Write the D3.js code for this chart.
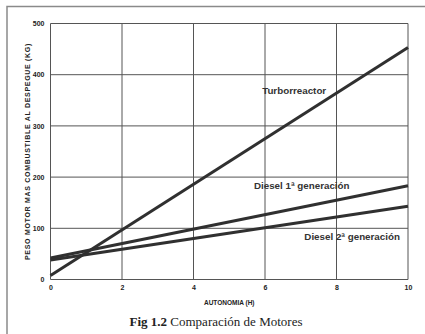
<!DOCTYPE html>
<html><head><meta charset="utf-8">
<script src="https://cdn.jsdelivr.net/npm/d3@7"></script>
<style>body{margin:0;background:#fff}svg{display:block}</style>
</head><body>
<script>
const xTicks = [0, 2, 4, 6, 8, 10];
const yTicks = [0, 100, 200, 300, 400, 500];
const autonomia = [0, 10];
const turborreactor = [8, 453];
const diesel1 = [42, 183];
const diesel2 = [38, 143];
const seriesNames = ["Turborreactor", "Diesel 1ª generación", "Diesel 2ª generación"];
const labelPos = [[5.92, 363], [5.69, 177], [7.1, 77]];

const W = 425, H = 334;
const svg = d3.select("body").append("svg").attr("width", W).attr("height", H);
svg.append("rect").attr("width", W).attr("height", H).attr("fill", "#fff");
// outer frame (top + left)
svg.append("path").attr("d", "M7,334V6.5H425").attr("fill", "none").attr("stroke", "#8a8a8a").attr("stroke-width", 1.5);

const x = d3.scaleLinear().domain([0, 10]).range([50.5, 408]);
const y = d3.scaleLinear().domain([0, 500]).range([279.5, 23.5]);

const g = svg.append("g");
// grid
g.selectAll(".vg").data(xTicks).join("line")
  .attr("x1", d => x(d)).attr("x2", d => x(d)).attr("y1", y(0)).attr("y2", y(500))
  .attr("stroke", "#555").attr("stroke-width", 1);
g.selectAll(".hg").data(yTicks).join("line")
  .attr("x1", x(0)).attr("x2", x(10)).attr("y1", d => y(d)).attr("y2", d => y(d))
  .attr("stroke", "#555").attr("stroke-width", 1);

// axes labels
const xAxis = d3.axisBottom(x).tickValues(xTicks).tickSize(0).tickPadding(6).tickFormat(d3.format("d"));
const xa = svg.append("g").attr("transform", `translate(0,${y(0)})`).call(xAxis);
const yAxis = d3.axisLeft(y).tickValues(yTicks).tickSize(0).tickPadding(6).tickFormat(d3.format("d"));
const ya = svg.append("g").attr("transform", `translate(${x(0)},0)`).call(yAxis);
[xa, ya].forEach(a => {
  a.select(".domain").remove();
  a.selectAll("text").attr("font-family", "Liberation Sans, Arial, sans-serif")
    .attr("font-weight", "bold").attr("font-size", 7).attr("fill", "#222");
});

// series lines
const line = d3.line().x((d, i) => x(autonomia[i])).y(d => y(d));
[turborreactor, diesel1, diesel2].forEach(s => {
  svg.append("path").attr("d", line(s)).attr("fill", "none")
    .attr("stroke", "#303030").attr("stroke-width", 3).attr("stroke-linecap", "butt");
});

// series labels
svg.selectAll(".sl").data(seriesNames).join("text")
  .attr("x", (d, i) => x(labelPos[i][0]))
  .attr("y", (d, i) => y(labelPos[i][1]))
  .attr("font-family", "Liberation Sans, Arial, sans-serif").attr("font-weight", "bold")
  .attr("font-size", 9.8).attr("fill", "#333")
  .text(d => d);

// axis titles
svg.append("text").attr("x", (x(0) + x(10)) / 2).attr("y", 305).attr("text-anchor", "middle")
  .attr("font-family", "Liberation Sans, Arial, sans-serif").attr("font-weight", "bold")
  .attr("font-size", 6.5).attr("fill", "#222").text("AUTONOMIA (H)");
svg.append("text").attr("transform", `translate(30,${(y(0) + y(500)) / 2}) rotate(-90)`)
  .attr("text-anchor", "middle")
  .attr("font-family", "Liberation Sans, Arial, sans-serif").attr("font-weight", "bold")
  .attr("font-size", 7).attr("fill", "#222").attr("letter-spacing", 0.7)
  .text("PESO MOTOR MAS COMBUSTIBLE AL DESPEGUE (KG)");

// caption
const cap = svg.append("text").attr("x", 216).attr("y", 326).attr("text-anchor", "middle")
  .attr("font-family", "Liberation Serif, Times New Roman, serif").attr("font-size", 13).attr("fill", "#222");
cap.append("tspan").attr("font-weight", "bold").text("Fig 1.2");
cap.append("tspan").text(" Comparación de Motores");
</script>
</body></html>
